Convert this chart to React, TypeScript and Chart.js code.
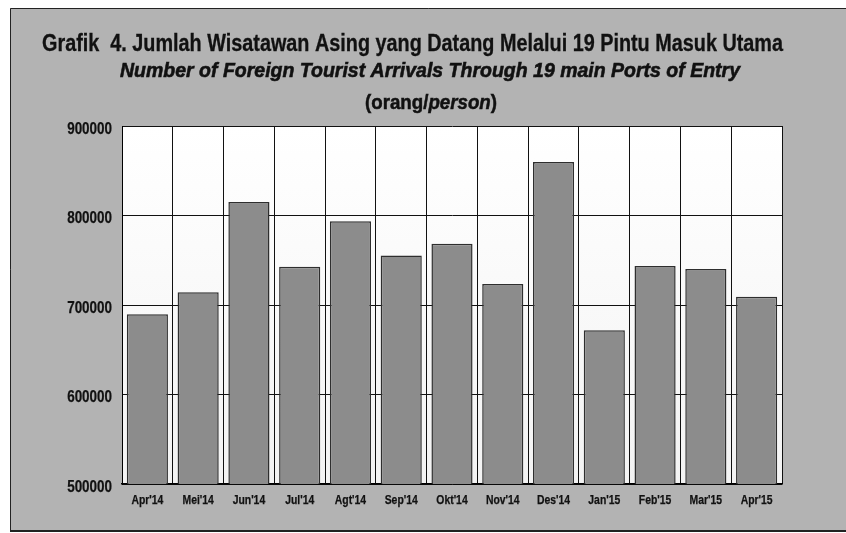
import React, { useEffect, useRef } from "react";
import { Chart, registerables } from "chart.js";

Chart.register(...registerables);

const categories = ["Apr'14", "Mei'14", "Jun'14", "Jul'14", "Agt'14", "Sep'14", "Okt'14", "Nov'14", "Des'14", "Jan'15", "Feb'15", "Mar'15", "Apr'15"];
const arrivals = [689600, 714200, 815200, 742700, 793700, 755400, 768300, 723400, 859800, 671800, 743500, 740100, 709300];
const yMin = 500000;
const yMax = 900000;
const yStep = 100000;

const titleLine1 = "Grafik  4. Jumlah Wisatawan Asing yang Datang Melalui 19 Pintu Masuk Utama";
const titleLine2 = "Number of Foreign Tourist Arrivals Through 19 main Ports of Entry";
const titleLine3a = "(orang/";
const titleLine3b = "person";
const titleLine3c = ")";

const SANS = "'Liberation Sans', Arial, sans-serif";

type Seg = { text: string; font: string };

function drawFit(ctx: CanvasRenderingContext2D, segs: Seg[], left: number, right: number, baseline: number, stroke = 0) {
  let total = 0;
  for (const s of segs) {
    ctx.font = s.font;
    total += ctx.measureText(s.text).width;
  }
  const sx = (right - left) / total;
  ctx.save();
  ctx.translate(left, baseline);
  ctx.scale(sx, 1);
  ctx.fillStyle = "#111";
  ctx.strokeStyle = "#111";
  ctx.lineWidth = stroke;
  ctx.textBaseline = "alphabetic";
  ctx.textAlign = "left";
  let x = 0;
  for (const s of segs) {
    ctx.font = s.font;
    ctx.fillText(s.text, x, 0);
    if (stroke > 0) ctx.strokeText(s.text, x, 0);
    x += ctx.measureText(s.text).width;
  }
  ctx.restore();
}

function drawScaled(ctx: CanvasRenderingContext2D, text: string, x: number, y: number, font: string, sx: number, align: "left" | "right" | "center") {
  ctx.save();
  ctx.translate(x, y);
  ctx.scale(sx, 1);
  ctx.font = font;
  ctx.fillStyle = "#111";
  ctx.strokeStyle = "#111";
  ctx.lineWidth = 0.25;
  ctx.textAlign = align;
  ctx.textBaseline = "alphabetic";
  ctx.fillText(text, 0, 0);
  ctx.strokeText(text, 0, 0);
  ctx.restore();
}

const framePlugin = {
  id: "frame",
  beforeDraw(chart: any) {
    const ctx: CanvasRenderingContext2D = chart.ctx;
    const W = chart.width;
    const H = chart.height;
    ctx.save();
    ctx.fillStyle = "#ffffff";
    ctx.fillRect(0, 0, W, H);
    ctx.fillStyle = "#b3b3b3";
    ctx.fillRect(10, 8, W - 10, 522);
    ctx.strokeStyle = "#222";
    ctx.lineWidth = 1;
    ctx.beginPath();
    ctx.moveTo(10.5, 530);
    ctx.lineTo(10.5, 8.5);
    ctx.lineTo(W, 8.5);
    ctx.stroke();
    ctx.lineWidth = 2;
    ctx.beginPath();
    ctx.moveTo(10, 531);
    ctx.lineTo(W, 531);
    ctx.stroke();
    const a = chart.chartArea;
    const g = ctx.createLinearGradient(0, a.top, 0, a.bottom);
    g.addColorStop(0, "#ffffff");
    g.addColorStop(1, "#f3f3f3");
    ctx.fillStyle = g;
    ctx.fillRect(a.left, a.top, a.right - a.left, a.bottom - a.top);
    ctx.restore();

    drawFit(ctx, [{ text: titleLine1, font: `bold 23px ${SANS}` }], 42, 783, 51, 0.3);
    drawFit(ctx, [{ text: titleLine2, font: `italic bold 21px ${SANS}` }], 120, 740, 76.5, 0.6);
    drawFit(
      ctx,
      [
        { text: titleLine3a, font: `bold 20px ${SANS}` },
        { text: titleLine3b, font: `italic bold 20px ${SANS}` },
        { text: titleLine3c, font: `bold 20px ${SANS}` },
      ],
      365,
      497,
      109,
      0.5
    );
  },
  afterDraw(chart: any) {
    const ctx: CanvasRenderingContext2D = chart.ctx;
    const ys = chart.scales.y;
    const xs = chart.scales.x;
    for (const t of ys.ticks) {
      const y = ys.getPixelForValue(t.value);
      drawScaled(ctx, String(t.value), 112, y + 7.5, `bold 16px ${SANS}`, 0.84, "right");
    }
    const labels: string[] = chart.data.labels;
    labels.forEach((lab, i) => {
      const x = xs.getPixelForTick(i);
      drawScaled(ctx, lab, x, 504, `bold 13px ${SANS}`, 0.8, "center");
    });
  },
};

export default function App() {
  const ref = useRef<HTMLCanvasElement | null>(null);
  useEffect(() => {
    if (!ref.current) return;
    const chart = new Chart(ref.current, {
      type: "bar",
      data: {
        labels: categories,
        datasets: [
          {
            data: arrivals,
            backgroundColor: "#8c8c8c",
            borderColor: "#2e2e2e",
            borderWidth: 1.5,
            barPercentage: 0.81,
            categoryPercentage: 1,
          },
        ],
      },
      options: {
        responsive: false,
        animation: false,
        devicePixelRatio: 1,
        layout: { padding: { left: 10, right: 64, top: 126, bottom: 19 } },
        plugins: { legend: { display: false }, title: { display: false }, tooltip: { enabled: false } },
        scales: {
          x: {
            offset: true,
            grid: { offset: true, color: "#111", lineWidth: 1, drawTicks: false },
            border: { color: "#000", width: 1.5 },
            ticks: { display: false, autoSkip: false },
            afterFit: (s: any) => { s.height = 30; },
          },
          y: {
            min: yMin,
            max: yMax,
            grid: { color: "#111", lineWidth: 1, drawTicks: false },
            border: { color: "#000", width: 1 },
            ticks: { display: false, stepSize: yStep },
            afterFit: (s: any) => { s.width = 112; },
          },
        },
      },
      plugins: [framePlugin],
    });
    return () => chart.destroy();
  }, []);
  return (
    <div style={{ position: "absolute", left: 0, top: 0, width: 846, height: 533 }}>
      <canvas ref={ref} width={846} height={533} style={{ display: "block" }} />
    </div>
  );
}
